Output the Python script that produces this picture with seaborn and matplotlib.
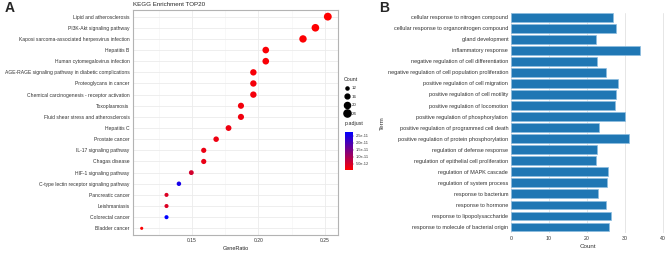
import numpy as np
import pandas as pd
import matplotlib
matplotlib.use('Agg')
import matplotlib.pyplot as plt
from matplotlib.colors import LinearSegmentedColormap, Normalize
from matplotlib.lines import Line2D
import seaborn as sns

# %% data - panel A (KEGG)
kegg_terms = ['Lipid and atherosclerosis', 'PI3K-Akt signaling pathway',
              'Kaposi sarcoma-associated herpesvirus infection', 'Hepatitis B',
              'Human cytomegalovirus infection',
              'AGE-RAGE signaling pathway in diabetic complications',
              'Proteoglycans in cancer', 'Chemical carcinogenesis - receptor activation',
              'Toxoplasmosis', 'Fluid shear stress and atherosclerosis', 'Hepatitis C',
              'Prostate cancer', 'IL-17 signaling pathway', 'Chagas disease',
              'HIF-1 signaling pathway', 'C-type lectin receptor signaling pathway',
              'Pancreatic cancer', 'Leishmaniasis', 'Colorectal cancer', 'Bladder cancer']
kegg_count = [27, 26, 25, 22, 22, 21, 21, 21, 20, 20, 19, 18, 17, 17, 16, 15, 14, 14, 14, 12]
kegg_ratio = [c / 107 for c in kegg_count]
kegg_padj = [7e-13, 9e-13, 1.1e-12, 1.3e-12, 1.4e-12, 1.6e-12, 1.8e-12, 1.9e-12,
             2.0e-12, 2.2e-12, 2.4e-12, 2.6e-12, 2.8e-12, 3.0e-12, 5.5e-12,
             2.55e-11, 4.5e-12, 4.5e-12, 2.79e-11, 1.0e-12]

# %% data - panel B (GO terms)
go_terms = ['cellular response to nitrogen compound',
            'cellular response to organonitrogen compound', 'gland development',
            'inflammatory response', 'negative regulation of cell differentiation',
            'negative regulation of cell population proliferation',
            'positive regulation of cell migration', 'positive regulation of cell motility',
            'positive regulation of locomotion', 'positive regulation of phosphorylation',
            'positive regulation of programmed cell death',
            'positive regulation of protein phosphorylation',
            'regulation of defense response', 'regulation of epithelial cell proliferation',
            'regulation of MAPK cascade', 'regulation of system process',
            'response to bacterium', 'response to hormone',
            'response to lipopolysaccharide', 'response to molecule of bacterial origin']
go_count = [26.8, 27.6, 22.4, 34.0, 22.6, 25.0, 28.1, 27.7, 27.4, 30.0,
            23.2, 31.0, 22.6, 22.5, 25.6, 25.2, 22.9, 25.0, 26.4, 25.7]

kegg = pd.DataFrame({'term': kegg_terms, 'GeneRatio': kegg_ratio,
                     'Count': kegg_count, 'p.adjust': kegg_padj})
go = pd.DataFrame({'Term': go_terms, 'Count': go_count})

# %% style
sns.set_theme(style='whitegrid')
plt.rcParams['font.family'] = ['Liberation Sans', 'DejaVu Sans']

fig = plt.figure(figsize=(6.69, 2.54), dpi=100)
axA = fig.add_axes([0.1988, 0.0748, 0.3064, 0.886])
axB = fig.add_axes([0.7638, 0.0827, 0.2287, 0.8673])

# %% panel A dotplot
cmap = LinearSegmentedColormap.from_list('rb', ['#FF0000', '#0000FF'])
pmin, pmax = min(kegg_padj), max(kegg_padj)
s_lo, s_hi = 5, 32
sns.scatterplot(data=kegg, x='GeneRatio', y='term', hue='p.adjust', size='Count',
                palette=cmap, hue_norm=(pmin, pmax), sizes=(s_lo, s_hi),
                size_norm=(12, 27), linewidth=0, legend=False, ax=axA, zorder=3)
axA.set_xlim(0.1056, 0.26)
axA.set_ylim(19.6, -0.6)
axA.set_xticks([0.15, 0.20, 0.25])
axA.set_xticklabels(['0.15', '0.20', '0.25'])
axA.set_xticks([0.125, 0.175, 0.225], minor=True)
axA.grid(True, which='major', color='#ebebeb', linewidth=0.6)
axA.grid(True, which='minor', axis='x', color='#f4f4f4', linewidth=0.4)
axA.set_facecolor('white')
for sp in axA.spines.values():
    sp.set_edgecolor('#b3b3b3')
    sp.set_linewidth(0.8)
axA.tick_params(axis='both', labelsize=3.6, length=1.5, width=0.4, colors='#4d4d4d',
                pad=1, labelcolor='#333333')
axA.tick_params(which='minor', length=0)
axA.set_xlabel('GeneRatio', fontsize=4, labelpad=1.5)
axA.set_ylabel('')
axA.set_title('KEGG Enrichment TOP20', fontsize=4.5, loc='left', pad=2.5)

# size legend
handles = [Line2D([], [], marker='o', linestyle='', color='black',
                  markersize=np.sqrt(s_lo + (c - 12) / 15 * (s_hi - s_lo)))
           for c in [12, 16, 20, 24]]
fig.legend(handles, ['12', '16', '20', '24'], title='Count', loc='upper left',
           bbox_to_anchor=(0.509, 0.71), frameon=False, fontsize=3.2,
           title_fontsize=3.8, labelspacing=1.0, handletextpad=0.4,
           handlelength=1.4, alignment='left', borderpad=0.2)

# colorbar
cax = fig.add_axes([0.5157, 0.331, 0.012, 0.1496])
cb = fig.colorbar(plt.cm.ScalarMappable(norm=Normalize(pmin, pmax), cmap=cmap), cax=cax)
cb.set_ticks([5e-12, 1e-11, 1.5e-11, 2e-11, 2.5e-11])
cb.set_ticklabels(['5.0e-12', '1.0e-11', '1.5e-11', '2.0e-11', '2.5e-11'])
cb.ax.tick_params(labelsize=2.8, length=1, width=0.3, pad=1, colors='#333333')
cb.outline.set_visible(False)
fig.text(0.5157, 0.505, 'p.adjust', fontsize=3.8, ha='left', va='bottom')

# %% panel B barplot
sns.barplot(data=go, x='Count', y='Term', orient='h', color='#1f77b4',
            saturation=1, width=0.8, edgecolor='#8dbde0', linewidth=0.5, ax=axB)
axB.set_xlim(0, 40.3)
axB.set_ylim(19.54, -0.4)
axB.set_xticks([0, 10, 20, 30, 40])
axB.grid(True, axis='x', color='#e6e6e6', linewidth=0.7)
axB.grid(False, axis='y')
for sp in axB.spines.values():
    sp.set_visible(False)
axB.tick_params(axis='x', labelsize=3.8, length=0, pad=2, labelcolor='#333333')
axB.tick_params(axis='y', labelsize=4.0, length=0, pad=2, labelcolor='#333333')
axB.set_xlabel('Count', fontsize=4.5, labelpad=2, color='#333333')
axB.set_ylabel('Term', fontsize=4.5, labelpad=2, color='#333333')

# panel letters
fig.text(0.007, 0.995, 'A', fontsize=10, fontweight='bold', ha='left', va='top')
fig.text(0.567, 0.995, 'B', fontsize=10, fontweight='bold', ha='left', va='top')

plt.savefig('out.png', dpi=100)
